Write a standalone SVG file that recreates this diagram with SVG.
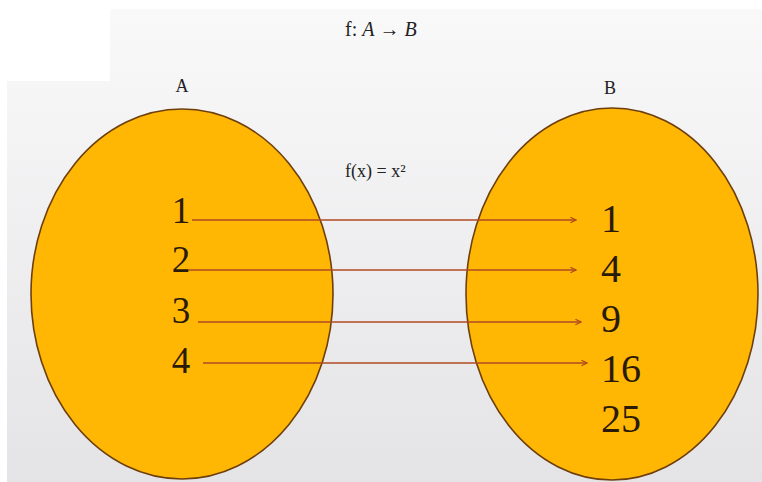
<svg xmlns="http://www.w3.org/2000/svg" width="762" height="482" viewBox="0 0 762 482">
<style>
.set{fill:#FFB703;stroke:#6e3f0c;stroke-width:1.6}
.t{font-family:'Liberation Serif','DejaVu Serif',serif;fill:#222}
.num{font-family:'Liberation Serif','DejaVu Serif',serif;fill:#2a1a08}
.arr{stroke:#b04a22;stroke-width:1.6;fill:none;marker-end:url(#ah)}
</style>
<defs>
<linearGradient id="bg" x1="0" y1="0" x2="0" y2="1">
<stop offset="0" stop-color="#f9f9fa"/>
<stop offset="1" stop-color="#e4e4e6"/>
</linearGradient>
<marker id="ah" viewBox="0 0 10 10" refX="9" refY="5" markerWidth="7" markerHeight="7" markerUnits="userSpaceOnUse" orient="auto">
<path d="M1,1 L9,5 L1,9" fill="none" stroke="#b04a22" stroke-width="1.6"/>
</marker>
</defs>
<rect width="762" height="482" fill="#ffffff"/>
<path d="M110,9 H762 V482 H7 V81 H110 Z" fill="url(#bg)"/>
<text class="t" x="345" y="36" font-size="20">f: <tspan font-style="italic">A</tspan> → <tspan font-style="italic">B</tspan></text>
<g id="setA">
<ellipse class="set" cx="182" cy="294" rx="151" ry="185"/>
<text class="t" x="182" y="92" font-size="18" text-anchor="middle">A</text>
<text class="num" x="181" y="223" font-size="37" text-anchor="middle">1</text>
<text class="num" x="181" y="272" font-size="37" text-anchor="middle">2</text>
<text class="num" x="181" y="323" font-size="37" text-anchor="middle">3</text>
<text class="num" x="181" y="373" font-size="37" text-anchor="middle">4</text>
</g>
<g id="setB">
<ellipse class="set" cx="612" cy="294" rx="146" ry="186"/>
<text class="t" x="610" y="94" font-size="18" text-anchor="middle">B</text>
<text class="num" x="601" y="232" font-size="40">1</text>
<text class="num" x="601" y="282" font-size="40">4</text>
<text class="num" x="601" y="332" font-size="40">9</text>
<text class="num" x="601" y="382" font-size="40">16</text>
<text class="num" x="601" y="432" font-size="40">25</text>
</g>
<text class="t" x="345" y="177" font-size="18">f(x) = x²</text>
<g id="connectors">
<line class="arr" x1="192" y1="220" x2="576" y2="220"/>
<line class="arr" x1="188" y1="270" x2="576" y2="270"/>
<line class="arr" x1="198" y1="322" x2="581" y2="322"/>
<line class="arr" x1="203" y1="363" x2="587" y2="363"/>
</g>
</svg>
